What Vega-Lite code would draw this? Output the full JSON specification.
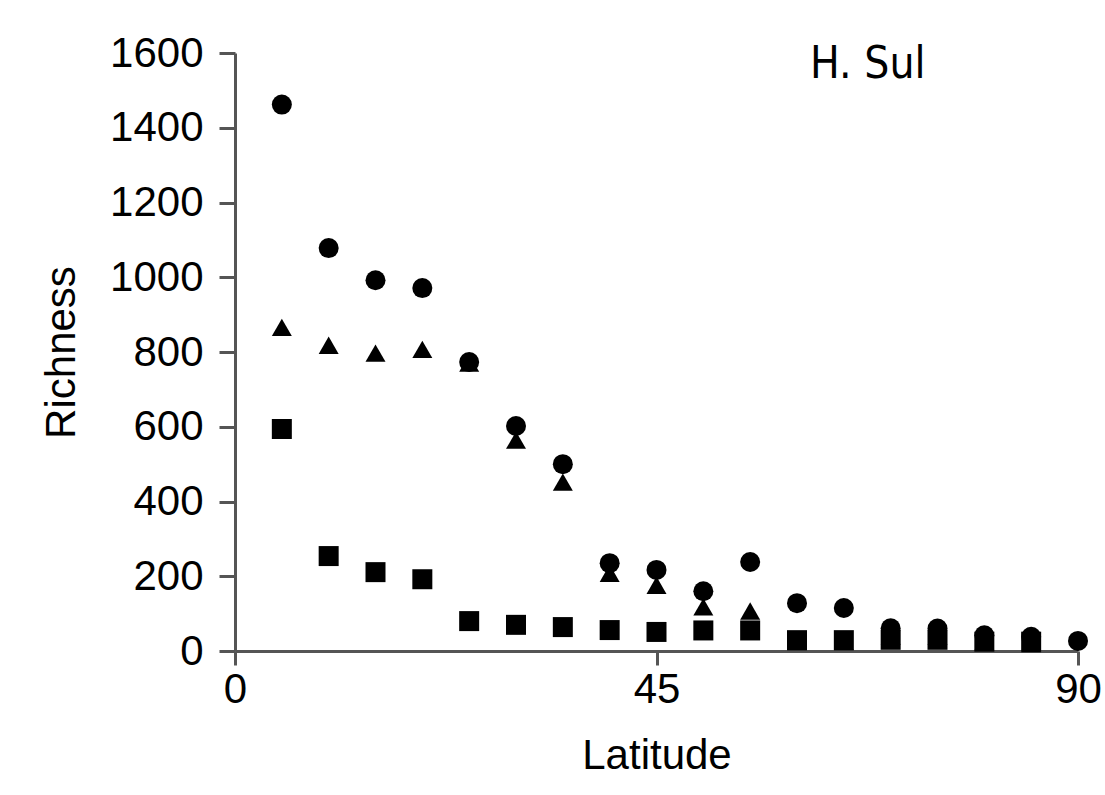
{
  "$schema": "https://vega.github.io/schema/vega-lite/v6.json",
  "width": 843,
  "height": 598,
  "autosize": {"type": "none"},
  "padding": {"left": 235, "top": 53, "right": 27, "bottom": 144},
  "background": "white",
  "config": {
    "view": {"stroke": null},
    "font": "Liberation Sans"
  },
  "datasets": {
    "pts": [
      {"latitude": 5, "group": "A", "richness": 1462},
      {"latitude": 10, "group": "A", "richness": 1078},
      {"latitude": 15, "group": "A", "richness": 992},
      {"latitude": 20, "group": "A", "richness": 971},
      {"latitude": 25, "group": "A", "richness": 773},
      {"latitude": 30, "group": "A", "richness": 602},
      {"latitude": 35, "group": "A", "richness": 500},
      {"latitude": 40, "group": "A", "richness": 235},
      {"latitude": 45, "group": "A", "richness": 217},
      {"latitude": 50, "group": "A", "richness": 160},
      {"latitude": 55, "group": "A", "richness": 238},
      {"latitude": 60, "group": "A", "richness": 128},
      {"latitude": 65, "group": "A", "richness": 115},
      {"latitude": 70, "group": "A", "richness": 61},
      {"latitude": 75, "group": "A", "richness": 60},
      {"latitude": 80, "group": "A", "richness": 42},
      {"latitude": 85, "group": "A", "richness": 38},
      {"latitude": 90, "group": "A", "richness": 27},
      {"latitude": 5, "group": "B", "richness": 866},
      {"latitude": 10, "group": "B", "richness": 818},
      {"latitude": 15, "group": "B", "richness": 797},
      {"latitude": 20, "group": "B", "richness": 807},
      {"latitude": 25, "group": "B", "richness": 770},
      {"latitude": 30, "group": "B", "richness": 564},
      {"latitude": 35, "group": "B", "richness": 452},
      {"latitude": 40, "group": "B", "richness": 208},
      {"latitude": 45, "group": "B", "richness": 176},
      {"latitude": 50, "group": "B", "richness": 118},
      {"latitude": 55, "group": "B", "richness": 107},
      {"latitude": 60, "group": "B", "richness": 25},
      {"latitude": 65, "group": "B", "richness": 25},
      {"latitude": 70, "group": "B", "richness": 40},
      {"latitude": 75, "group": "B", "richness": 40},
      {"latitude": 80, "group": "B", "richness": 25},
      {"latitude": 85, "group": "B", "richness": 20},
      {"latitude": 5, "group": "C", "richness": 594},
      {"latitude": 10, "group": "C", "richness": 254},
      {"latitude": 15, "group": "C", "richness": 211},
      {"latitude": 20, "group": "C", "richness": 192},
      {"latitude": 25, "group": "C", "richness": 80},
      {"latitude": 30, "group": "C", "richness": 70},
      {"latitude": 35, "group": "C", "richness": 64},
      {"latitude": 40, "group": "C", "richness": 56},
      {"latitude": 45, "group": "C", "richness": 51},
      {"latitude": 50, "group": "C", "richness": 55},
      {"latitude": 55, "group": "C", "richness": 55},
      {"latitude": 60, "group": "C", "richness": 29},
      {"latitude": 65, "group": "C", "richness": 29},
      {"latitude": 70, "group": "C", "richness": 30},
      {"latitude": 75, "group": "C", "richness": 30},
      {"latitude": 80, "group": "C", "richness": 25},
      {"latitude": 85, "group": "C", "richness": 25}
    ],
    "label": [{"name": "H. Sul"}]
  },
  "layer": [
    {
      "data": {"name": "pts"},
      "mark": {"type": "point", "filled": true, "size": 400, "opacity": 1, "color": "black", "clip": false},
      "encoding": {
        "x": {
          "field": "latitude", "type": "quantitative",
          "scale": {"domain": [0, 90], "nice": false, "zero": false},
          "axis": {
            "values": [0, 45, 90], "title": "Latitude", "grid": false, "format": "d", "labelFlush": false,
            "domainColor": "#555", "domainWidth": 3, "tickColor": "#555", "tickWidth": 3, "tickSize": 14,
            "labelFontSize": 42, "labelColor": "black", "labelPadding": 4,
            "titleFontSize": 42, "titleFontWeight": "normal", "titleColor": "black", "titlePadding": 25
          }
        },
        "y": {
          "field": "richness", "type": "quantitative",
          "scale": {"domain": [0, 1600], "nice": false},
          "axis": {
            "values": [0, 200, 400, 600, 800, 1000, 1200, 1400, 1600], "title": "Richness", "grid": false, "format": "d", "labelFlush": false,
            "domainColor": "#555", "domainWidth": 3, "tickColor": "#555", "tickWidth": 3, "tickSize": 16,
            "labelFontSize": 42, "labelColor": "black", "labelPadding": 16,
            "titleFontSize": 42, "titleFontWeight": "normal", "titleColor": "black", "titlePadding": 26
          }
        },
        "shape": {
          "field": "group", "type": "nominal",
          "scale": {"domain": ["A", "B", "C"], "range": ["circle", "triangle-up", "square"]},
          "legend": null
        }
      }
    },
    {
      "data": {"name": "label"},
      "mark": {"type": "text", "align": "left", "baseline": "alphabetic", "font": "DejaVu Sans Condensed, DejaVu Sans", "fontSize": 44, "color": "black"},
      "encoding": {
        "x": {"datum": 61.4, "type": "quantitative"},
        "y": {"datum": 1533, "type": "quantitative"},
        "text": {"field": "name", "type": "nominal"}
      }
    }
  ]
}
